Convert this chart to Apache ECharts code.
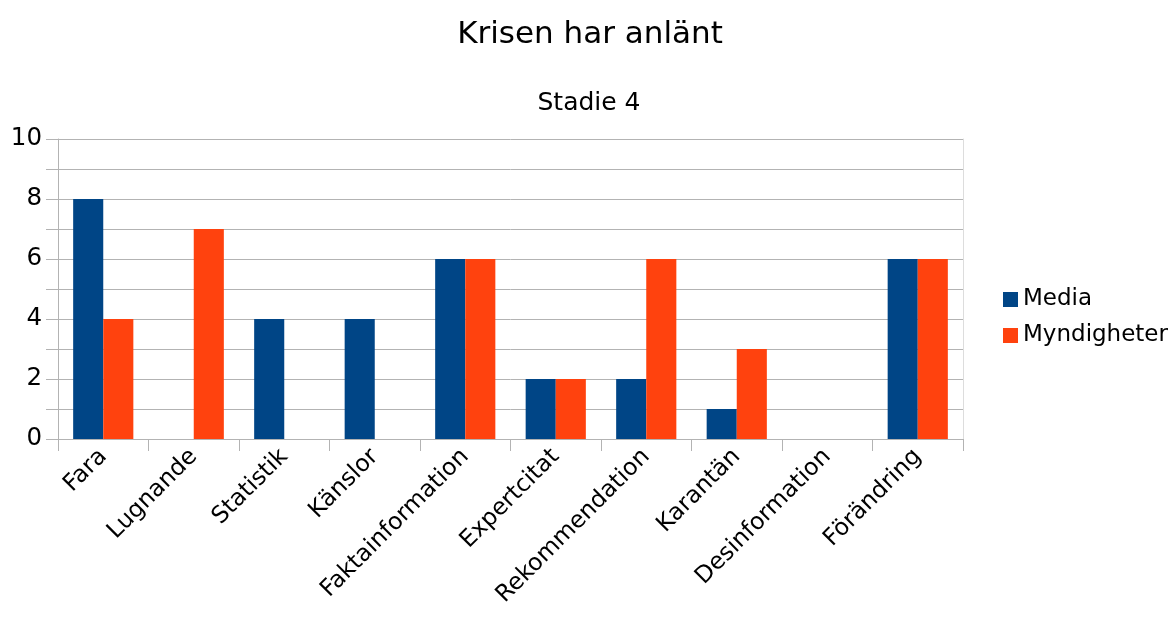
<!DOCTYPE html>
<html>
<head>
<meta charset="utf-8">
<script src="https://cdn.jsdelivr.net/npm/echarts@6/dist/echarts.min.js"></script>
<style>
html,body{margin:0;padding:0;background:#fff;}
#chart{width:1169px;height:619px;}
</style>
</head>
<body>
<div id="chart"></div>
<script>
const categories = ['Fara','Lugnande','Statistik','Känslor','Faktainformation','Expertcitat','Rekommendation','Karantän','Desinformation','Förändring'];
const media = [8,0,4,4,6,2,2,1,0,6];
const myndigheter = [4,7,0,0,6,2,6,3,0,6];
const seriesNames = ['Media','Myndigheter'];
const yTicks = [0,2,4,6,8,10];

const FONT = 'DejaVu Sans';
const chart = echarts.init(document.getElementById('chart'), null, {renderer:'canvas'});
chart.setOption({
  backgroundColor:'#ffffff',
  animation:false,
  color:['#004586','#ff420e'],
  title:[
    {text:'Krisen har anlänt', left:585, top:14, textAlign:'center', textStyle:{fontFamily:FONT,fontSize:31,fontWeight:'normal',color:'#000'}},
    {text:'Stadie 4', left:584, top:86, textAlign:'center', textStyle:{fontFamily:FONT,fontSize:25,fontWeight:'normal',color:'#000'}}
  ],
  legend:{
    orient:'vertical', left:998, top:283,
    itemWidth:15, itemHeight:15, itemGap:13,
    icon:'rect',
    textStyle:{fontFamily:FONT,fontSize:23,color:'#000'},
    data:seriesNames
  },
  grid:{left:58,right:206,top:139,bottom:180,containLabel:false},
  xAxis:{
    type:'category', data:categories,
    axisLine:{lineStyle:{color:'#b3b3b3',width:1}},
    axisTick:{show:true,length:12,lineStyle:{color:'#b3b3b3'}},
    axisLabel:{rotate:45,interval:0,margin:14,fontFamily:FONT,fontSize:23.5,color:'#000'}
  },
  yAxis:[{
    type:'value', min:0, max:10, interval:1,
    axisLine:{show:true,lineStyle:{color:'#b3b3b3',width:1}},
    axisTick:{show:true,length:12,lineStyle:{color:'#b3b3b3'}},
    splitLine:{show:true,lineStyle:{color:'#b3b3b3',width:1}},
    axisLabel:{margin:16,fontFamily:FONT,fontSize:24.5,color:'#000',
      formatter:function(v){return yTicks.indexOf(v)>=0 ? String(v) : '';}}
  },{
    type:'value', min:0, max:10, interval:1, position:'right',
    axisLine:{show:true,lineStyle:{color:'#dddddd',width:1}},
    axisTick:{show:false}, axisLabel:{show:false}, splitLine:{show:false}
  }],
  series:[
    {name:seriesNames[0],type:'bar',data:media,barGap:'0%',barCategoryGap:'33.5%',itemStyle:{color:'#004586'}},
    {name:seriesNames[1],type:'bar',data:myndigheter,barGap:'0%',barCategoryGap:'33.5%',itemStyle:{color:'#ff420e'}}
  ]
});
</script>
</body>
</html>
